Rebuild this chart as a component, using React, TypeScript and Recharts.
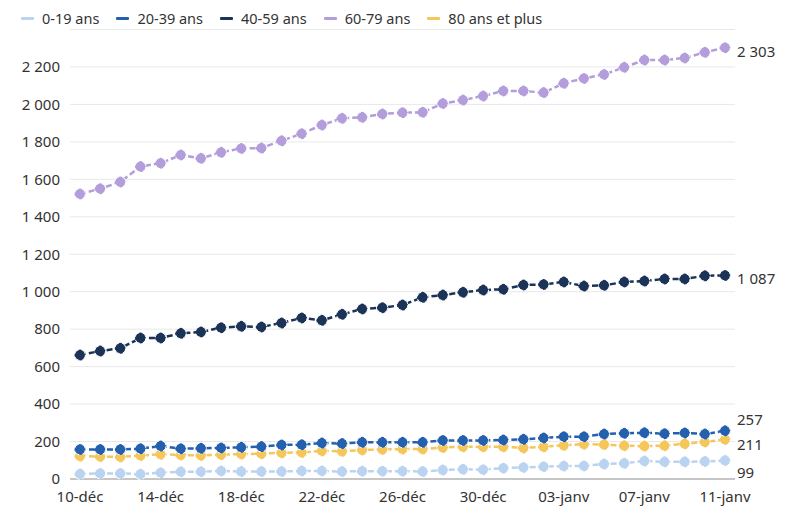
import React from "react";
import {
  CartesianGrid,
  LabelList,
  Line,
  LineChart,
  XAxis,
  YAxis,
} from "recharts";

// Dates (categories)
const dates = [
  "10-déc", "11-déc", "12-déc", "13-déc", "14-déc", "15-déc", "16-déc",
  "17-déc", "18-déc", "19-déc", "20-déc", "21-déc", "22-déc", "23-déc",
  "24-déc", "25-déc", "26-déc", "27-déc", "28-déc", "29-déc", "30-déc",
  "31-déc", "01-janv", "02-janv", "03-janv", "04-janv", "05-janv",
  "06-janv", "07-janv", "08-janv", "09-janv", "10-janv", "11-janv",
];

const xTicks = [
  "10-déc", "14-déc", "18-déc", "22-déc", "26-déc",
  "30-déc", "03-janv", "07-janv", "11-janv",
];

const yTicks = [0, 200, 400, 600, 800, 1000, 1200, 1400, 1600, 1800, 2000, 2200];

// Series values
const age0to19 = [
  27, 30, 30, 26, 34, 39, 39, 43, 40, 40, 40, 43, 43, 40, 42, 42, 42,
  40, 48, 52, 50, 58, 62, 66, 69, 70, 80, 84, 96, 92, 92, 94, 99,
];
const age20to39 = [
  158, 158, 158, 162, 176, 162, 164, 166, 169, 173, 182, 183, 192, 189,
  196, 196, 196, 196, 206, 206, 206, 208, 212, 219, 226, 226, 240, 244,
  247, 242, 246, 240, 257,
];
const age40to59 = [
  662, 683, 698, 753, 753, 778, 785, 808, 815, 812, 833, 860, 847, 879,
  908, 915, 929, 970, 982, 997, 1009, 1013, 1036, 1039, 1052, 1030, 1034,
  1052, 1057, 1068, 1068, 1085, 1087,
];
const age60to79 = [
  1522, 1550, 1586, 1668, 1686, 1730, 1712, 1744, 1765, 1767, 1806, 1844,
  1890, 1926, 1931, 1949, 1956, 1958, 2005, 2023, 2045, 2072, 2072, 2063,
  2113, 2139, 2160, 2198, 2237, 2237, 2248, 2278, 2303,
];
const age80plus = [
  122, 120, 118, 125, 132, 128, 126, 130, 133, 135, 140, 142, 150, 148,
  155, 158, 160, 160, 168, 172, 172, 172, 166, 172, 180, 186, 184, 178,
  176, 178, 188, 198, 211,
];

const data = dates.map((date, i) => ({
  date,
  a0: age0to19[i],
  a20: age20to39[i],
  a40: age40to59[i],
  a60: age60to79[i],
  a80: age80plus[i],
}));

const series = [
  { key: "a0", name: "0-19 ans", color: "#b9d3f0", labelDy: 14 },
  { key: "a20", name: "20-39 ans", color: "#2460ae", labelDy: -10 },
  { key: "a40", name: "40-59 ans", color: "#1b3357", labelDy: 5 },
  { key: "a60", name: "60-79 ans", color: "#b39ddb", labelDy: 5 },
  { key: "a80", name: "80 ans et plus", color: "#f5c75a", labelDy: 7 },
];

// draw order: yellow under the blues
const drawOrder = ["a80", "a0", "a60", "a40", "a20"];

const FONT = "'Noto Sans', sans-serif";
const fmt = (v: number) => String(v).replace(/\B(?=(\d{3})+(?!\d))/g, " ");

const EndLabel = (props: any) => {
  const { x, y, index, value, dy } = props;
  if (index !== dates.length - 1) return null;
  return (
    <text
      x={x + 12}
      y={y + dy}
      dominantBaseline="middle"
      fill="#333"
      fontSize={15}
      fontFamily={FONT}
    >
      {fmt(value)}
    </text>
  );
};

export default function App() {
  return (
    <div
      style={{
        position: "absolute",
        left: 0,
        top: 0,
        width: 800,
        height: 521,
        background: "#fff",
        fontFamily: FONT,
      }}
    >
      <div
        style={{
          position: "absolute",
          left: 21,
          top: 8,
          display: "flex",
          alignItems: "center",
          gap: 17,
          fontSize: 14.5,
          color: "#333",
        }}
      >
        {series.map((s) => (
          <div key={s.key} style={{ display: "flex", alignItems: "center" }}>
            <span
              style={{
                display: "inline-block",
                width: 13,
                height: 3,
                background: s.color,
                marginRight: 8,
                borderRadius: 1,
              }}
            />
            <span>{s.name}</span>
          </div>
        ))}
      </div>
      <LineChart
        width={800}
        height={521}
        data={data}
        margin={{ top: 29.5, right: 65, left: 8, bottom: 10 }}
      >
        <CartesianGrid vertical={false} stroke="#e8e8e8" />
        <XAxis
          dataKey="date"
          ticks={xTicks}
          interval={0}
          padding={{ left: 10, right: 10 }}
          axisLine={{ stroke: "#999" }}
          tickLine={false}
          tickMargin={6}
          tick={{ fill: "#333", fontSize: 15, fontFamily: FONT }}
          height={32}
        />
        <YAxis
          domain={[0, 2400]}
          ticks={yTicks}
          interval={0}
          width={62}
          axisLine={false}
          tickLine={false}
          tickMargin={4}
          tickFormatter={fmt}
          tick={{ fill: "#333", fontSize: 15, fontFamily: FONT }}
        />
        {drawOrder.map((k) => {
          const s = series.find((d) => d.key === k)!;
          return (
            <Line
              key={s.key}
              dataKey={s.key}
              name={s.name}
              type="linear"
              stroke={s.color}
              strokeWidth={2.5}
              strokeDasharray="6 3"
              dot={{ r: 5.5, fill: s.color, stroke: "#fff", strokeWidth: 1 }}
              activeDot={false}
              isAnimationActive={false}
            >
              <LabelList
                dataKey={s.key}
                content={(p: any) => <EndLabel {...p} dy={s.labelDy} />}
              />
            </Line>
          );
        })}
      </LineChart>
    </div>
  );
}
